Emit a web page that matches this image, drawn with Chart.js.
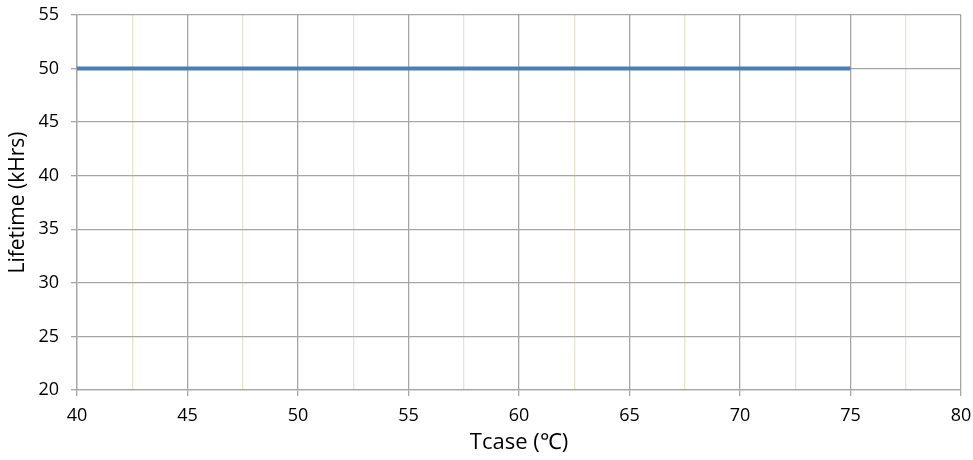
<!DOCTYPE html>
<html>
<head>
<meta charset="utf-8">
<script src="https://cdn.jsdelivr.net/npm/chart.js@4.4.1/dist/chart.umd.min.js"></script>
<style>
html,body{margin:0;padding:0;background:#fff;}
#wrap{width:973px;height:460px;position:relative;}
</style>
</head>
<body>
<div id="wrap"><canvas id="c" width="973" height="460"></canvas></div>
<script>
const tcase = [40, 75];
const lifetime = [50, 50];
const xMin = 40, xMax = 80, xStep = 2.5;
const yMin = 20, yMax = 55, yStep = 5;
const xTitle = 'Tcase (\u2103)';
const yTitle = 'Lifetime (kHrs)';

const FONT = '"Open Sans", "Liberation Sans", sans-serif';
const isMajor = v => Math.abs(v / 5 - Math.round(v / 5)) < 1e-6;

new Chart(document.getElementById('c'), {
  type: 'scatter',
  data: {
    datasets: [{
      data: tcase.map((x, i) => ({x: x, y: lifetime[i]})),
      showLine: true,
      borderColor: '#4a7ebb',
      backgroundColor: '#4a7ebb',
      borderWidth: 4,
      pointRadius: 0,
      borderCapStyle: 'butt'
    }]
  },
  options: {
    responsive: false,
    animation: false,
    layout: {padding: {left: 0, right: 12, top: 15, bottom: 0}},
    plugins: {legend: {display: false}, tooltip: {enabled: false}},
    scales: {
      x: {
        type: 'linear', min: xMin, max: xMax,
        afterBuildTicks: s => {
          const t = [];
          for (let v = xMin; v <= xMax + 1e-9; v += xStep) t.push({value: v});
          s.ticks = t;
        },
        afterFit: s => { s.height = 70; s.paddingLeft = 0; s.paddingRight = 0; },
        ticks: {
          color: '#000',
          font: {family: FONT, size: 18},
          padding: 9,
          maxRotation: 0,
          autoSkip: false,
          callback: v => isMajor(v) ? String(v) : ''
        },
        grid: {
          color: c => isMajor(c.tick.value) ? '#a6a6a6' : '#e8e4d0',
          tickColor: c => isMajor(c.tick.value) ? '#a6a6a6' : 'rgba(0,0,0,0)',
          tickLength: 6,
          lineWidth: 1.3
        },
        border: {color: '#a6a6a6', width: 1.3},
        title: {display: true, text: xTitle, color: '#000', font: {family: FONT, size: 22}, padding: {top: 0, bottom: 4}}
      },
      y: {
        type: 'linear', min: yMin, max: yMax,
        ticks: {stepSize: yStep, color: '#000', font: {family: FONT, size: 18}, padding: 12},
        afterFit: s => { s.width = 77; s.paddingTop = 0; s.paddingBottom = 0; },
        grid: {color: '#a6a6a6', tickColor: '#a6a6a6', tickLength: 6, lineWidth: 1.3},
        border: {color: '#a6a6a6', width: 1.3},
        title: {display: true, text: yTitle, color: '#000', font: {family: FONT, size: 21}, padding: {top: 5, bottom: 0}}
      }
    }
  }
});
</script>
</body>
</html>
